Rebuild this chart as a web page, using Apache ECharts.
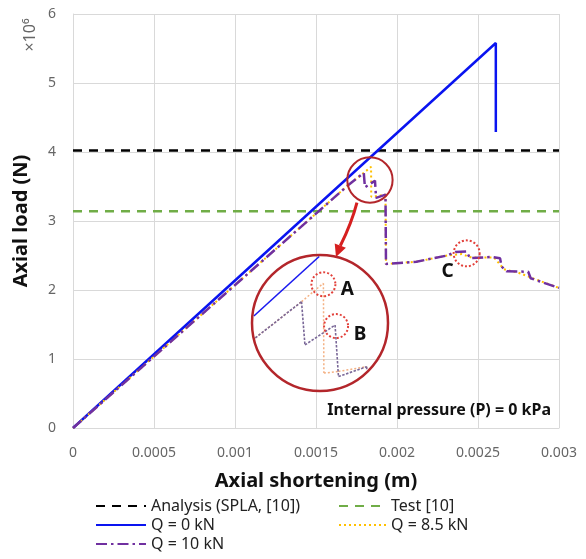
<!DOCTYPE html>
<html>
<head>
<meta charset="utf-8">
<script src="https://cdn.jsdelivr.net/npm/echarts@6/dist/echarts.min.js"></script>
<style>html,body{margin:0;padding:0;background:#fff;}#chart{width:586px;height:559px;}</style>
</head>
<body>
<div id="chart"></div>
<script>
// ---------- data ----------
const xTickLabels = ['0', '0.0005', '0.001', '0.0015', '0.002', '0.0025', '0.003'];
const yTickLabels = ['0', '1', '2', '3', '4', '5', '6'];

const analysisLoad = 4.02e6;          // Analysis (SPLA, [10])
const testLoad = 3.14e6;              // Test [10]

const q0Disp = [0, 0.00261, 0.00261];
const q0Load = [0, 5.58e6, 4.29e6];

const q85Disp = [0, 0.00170, 0.001795, 0.00184, 0.001841, 0.001871, 0.001929, 0.001932,
  0.00212, 0.00231, 0.00240, 0.00246, 0.00260, 0.00266, 0.00275, 0.00285, 0.00300];
const q85Load = [0, 3.522e6, 3.697e6, 3.786e6, 3.352e6, 3.36e6, 3.383e6, 2.377e6,
  2.41e6, 2.50e6, 2.52e6, 2.47e6, 2.47e6, 2.30e6, 2.25e6, 2.16e6, 2.03e6];

const q10Disp = [0, 0.00170, 0.001795, 0.001802, 0.001864, 0.001871, 0.001929, 0.001932,
  0.00212, 0.00231, 0.00236, 0.00243, 0.00245, 0.002585, 0.002636, 0.002646, 0.002677,
  0.00281, 0.002825, 0.00300];
const q10Load = [0, 3.522e6, 3.697e6, 3.488e6, 3.584e6, 3.335e6, 3.383e6, 2.377e6,
  2.41e6, 2.50e6, 2.55e6, 2.56e6, 2.46e6, 2.48e6, 2.46e6, 2.34e6, 2.27e6,
  2.265e6, 2.17e6, 2.03e6];

// magnified window shown in the inset
const insetX = [0.0016931, 0.0019729];
const insetY = [3.2655e6, 3.9225e6];

// annotated points
const pointA = [0.00184, 3.786e6];   // Q = 8.5 kN peak (inset)
const pointB = [0.001864, 3.584e6];  // Q = 10 kN peak (inset)
const pointC = [0.00243, 2.56e6];    // main chart

// ---------- helpers ----------
const pairs = (xs, ys) => xs.map((x, i) => [x, ys[i]]);
const FONT = '"Noto Sans", "Open Sans", sans-serif';

function clipSeg(p, q, c, R) {
  const dx = q[0] - p[0], dy = q[1] - p[1];
  const fx = p[0] - c[0], fy = p[1] - c[1];
  const a = dx * dx + dy * dy;
  if (a === 0) return null;
  const b = 2 * (fx * dx + fy * dy);
  const cc = fx * fx + fy * fy - R * R;
  const disc = b * b - 4 * a * cc;
  if (disc <= 0) return null;
  const s = Math.sqrt(disc);
  let t1 = (-b - s) / (2 * a), t2 = (-b + s) / (2 * a);
  t1 = Math.max(t1, 0); t2 = Math.min(t2, 1);
  if (t1 >= t2) return null;
  return [[p[0] + dx * t1, p[1] + dy * t1], [p[0] + dx * t2, p[1] + dy * t2]];
}

function insetSeries(name, xs, ys, style) {
  return {
    name: name,
    type: 'custom',
    xAxisIndex: 1, yAxisIndex: 1,
    clip: false,
    silent: true,
    z: 5,
    data: pairs(xs, ys),
    encode: { x: 0, y: 1 },
    renderItem: function (params, api) {
      const i = params.dataIndexInside;
      if (i === 0) return null;
      const p = api.coord([api.value(0, i - 1), api.value(1, i - 1)]);
      const q = api.coord([api.value(0, i), api.value(1, i)]);
      const cs = params.coordSys;
      const c = [cs.x + cs.width / 2, cs.y + cs.height / 2];
      const seg = clipSeg(p, q, c, cs.width / 2 - 1.5);
      if (!seg) return null;
      return {
        type: 'line',
        shape: { x1: seg[0][0], y1: seg[0][1], x2: seg[1][0], y2: seg[1][1] },
        style: style
      };
    }
  };
}

// ---------- chart ----------
const chart = echarts.init(document.getElementById('chart'), null, { renderer: 'canvas' });

const legendCommon = {
  orient: 'vertical', top: 497, itemGap: 1, itemHeight: 14, padding: 0,
  itemStyle: { opacity: 0 },
  textStyle: { fontSize: 16, lineHeight: 18, color: '#222', fontFamily: FONT }
};

const option = {
  backgroundColor: '#ffffff',
  animation: false,
  textStyle: { fontFamily: FONT },
  grid: [
    { left: 73, right: 27, top: 14, bottom: 131 },
    { left: 252, top: 255, width: 136, height: 136 }
  ],
  xAxis: [
    {
      type: 'value', gridIndex: 0, min: 0, max: 0.003, interval: 0.0005,
      name: 'Axial shortening (m)', nameLocation: 'middle', nameGap: 43,
      nameTextStyle: { fontSize: 20, fontWeight: 'bold', color: '#111', fontFamily: FONT },
      axisLine: { show: true, lineStyle: { color: '#d9d9d9', width: 1 } },
      axisTick: { show: false },
      splitLine: { show: true, lineStyle: { color: '#d9d9d9', width: 1 } },
      axisLabel: {
        color: '#666', fontSize: 14, margin: 18, fontFamily: FONT,
        formatter: v => xTickLabels[Math.round(v / 0.0005)]
      }
    },
    { type: 'value', gridIndex: 1, min: insetX[0], max: insetX[1], show: false }
  ],
  yAxis: [
    {
      type: 'value', gridIndex: 0, min: 0, max: 6e6, interval: 1e6,
      name: 'Axial load (N)', nameLocation: 'middle', nameGap: 42, nameRotate: 90,
      nameTextStyle: { fontSize: 20, fontWeight: 'bold', color: '#111', fontFamily: FONT },
      axisLine: { show: true, lineStyle: { color: '#d9d9d9', width: 1 } },
      axisTick: { show: false },
      splitLine: { show: true, lineStyle: { color: '#d9d9d9', width: 1 } },
      axisLabel: {
        color: '#666', fontSize: 14, margin: 17, fontFamily: FONT,
        formatter: v => yTickLabels[Math.round(v / 1e6)]
      }
    },
    { type: 'value', gridIndex: 1, min: insetY[0], max: insetY[1], show: false }
  ],
  legend: [
    Object.assign({}, legendCommon, {
      data: ['Analysis (SPLA, [10])', 'Q = 0 kN', 'Q = 10 kN'],
      left: 95, itemWidth: 50
    }),
    Object.assign({}, legendCommon, {
      data: ['Test [10]', 'Q = 8.5 kN'],
      left: 338, itemWidth: 47
    })
  ],
  series: [
    {
      name: 'Analysis (SPLA, [10])', type: 'line', symbol: 'none',
      data: [[0, analysisLoad], [0.003, analysisLoad]],
      lineStyle: { color: '#000000', width: 2.5, type: [9, 7] },
      itemStyle: { color: '#000000' }
    },
    {
      name: 'Test [10]', type: 'line', symbol: 'none',
      data: [[0, testLoad], [0.003, testLoad]],
      lineStyle: { color: '#70AD47', width: 2.5, type: [9, 7] },
      itemStyle: { color: '#70AD47' }
    },
    {
      name: 'Q = 0 kN', type: 'line', symbol: 'none',
      data: pairs(q0Disp, q0Load),
      lineStyle: { color: '#0A14F0', width: 2.5 },
      itemStyle: { color: '#0A14F0' }
    },
    {
      name: 'Q = 8.5 kN', type: 'line', symbol: 'none',
      data: pairs(q85Disp, q85Load),
      lineStyle: { color: '#FFC000', width: 2, type: [2, 3] },
      itemStyle: { color: '#FFC000' }
    },
    {
      name: 'Q = 10 kN', type: 'line', symbol: 'none',
      data: pairs(q10Disp, q10Load),
      lineStyle: { color: '#7030A0', width: 2.5, type: [11, 4, 2.5, 4] },
      itemStyle: { color: '#7030A0' }
    },
    insetSeries('inset Q0', q0Disp, q0Load, { stroke: '#1A1AF0', lineWidth: 1.6 }),
    insetSeries('inset Q8.5', q85Disp, q85Load, { stroke: '#F4B183', lineWidth: 1.5, lineDash: [2, 2] }),
    insetSeries('inset Q10', q10Disp, q10Load, { stroke: '#7A6898', lineWidth: 1.6, lineDash: [2.5, 1.5] })
  ]
};

chart.setOption(option);

// ---------- annotations (positioned from data via the axes) ----------
const mainC = chart.convertToPixel({ gridIndex: 0 }, [(insetX[0] + insetX[1]) / 2, (insetY[0] + insetY[1]) / 2]);
const mainR = (chart.convertToPixel({ gridIndex: 0 }, [insetX[1], 0])[0] -
               chart.convertToPixel({ gridIndex: 0 }, [insetX[0], 0])[0]) / 2;
const bigL = chart.convertToPixel({ gridIndex: 1 }, [insetX[0], insetY[1]]);
const bigR2 = chart.convertToPixel({ gridIndex: 1 }, [insetX[1], insetY[0]]);
const bigC = [(bigL[0] + bigR2[0]) / 2, (bigL[1] + bigR2[1]) / 2];
const bigR = (bigR2[0] - bigL[0]) / 2;

const pA = chart.convertToPixel({ gridIndex: 1 }, pointA);
const pB = chart.convertToPixel({ gridIndex: 1 }, pointB);
const pC = chart.convertToPixel({ gridIndex: 0 }, pointC);

// arrow from small circle to inset circle
const ang = 235 * Math.PI / 180;
const aStart = [mainC[0] + mainR * Math.cos(ang), mainC[1] - mainR * Math.sin(ang) + 4];
const tipX = bigC[0] + 16;
const aTip = [tipX, bigC[1] - Math.sqrt(bigR * bigR - 16 * 16)];
const dx = aTip[0] - aStart[0], dy = aTip[1] - aStart[1];
const len = Math.sqrt(dx * dx + dy * dy);
const ux = dx / len, uy = dy / len;
const base = [aTip[0] - 12 * ux, aTip[1] - 12 * uy];
const px = -uy, py = ux;
const ctrl = [(aStart[0] + base[0]) / 2 + 3, (aStart[1] + base[1]) / 2 - 1];

const RED = '#B3262B';
const DOT = '#E2403A';

chart.setOption({
  graphic: [
    { type: 'text', x: 30, y: 35, rotation: Math.PI / 2, z: 10,
      style: { text: '×10⁶', fill: '#666', font: '16px ' + FONT, textAlign: 'center', textVerticalAlign: 'middle' } },
    { type: 'text', z: 10, x: 551, y: 410,
      style: { text: 'Internal pressure (P) = 0 kPa', fill: '#111', font: 'bold 16px ' + FONT,
               textAlign: 'right', textVerticalAlign: 'middle' } },
    // small circle on main chart
    { type: 'circle', z: 20, shape: { cx: mainC[0], cy: mainC[1], r: mainR },
      style: { fill: 'none', stroke: RED, lineWidth: 2 } },
    // inset circle
    { type: 'circle', z: 20, shape: { cx: bigC[0], cy: bigC[1], r: bigR },
      style: { fill: 'none', stroke: RED, lineWidth: 2.5 } },
    // arrow
    { type: 'bezierCurve', z: 21,
      shape: { x1: aStart[0], y1: aStart[1], x2: base[0], y2: base[1], cpx1: ctrl[0], cpy1: ctrl[1] },
      style: { fill: 'none', stroke: '#D61F1F', lineWidth: 3 } },
    { type: 'polygon', z: 21,
      shape: { points: [aTip, [base[0] + 6 * px, base[1] + 6 * py], [base[0] - 6 * px, base[1] - 6 * py]] },
      style: { fill: '#D61F1F' } },
    // dotted circles
    { type: 'circle', z: 22, shape: { cx: pA[0], cy: pA[1] + 1, r: 12 },
      style: { fill: 'none', stroke: DOT, lineWidth: 2, lineDash: [2, 2] } },
    { type: 'circle', z: 22, shape: { cx: pB[0] + 1, cy: pB[1] + 1, r: 12 },
      style: { fill: 'none', stroke: DOT, lineWidth: 2, lineDash: [2, 2] } },
    { type: 'circle', z: 22, shape: { cx: pC[0], cy: pC[1] + 2, r: 13 },
      style: { fill: 'none', stroke: DOT, lineWidth: 2, lineDash: [2, 2] } },
    // labels
    { type: 'text', z: 23, x: pA[0] + 24, y: pA[1] + 6,
      style: { text: 'A', fill: '#111', font: 'bold 19px ' + FONT, textAlign: 'center', textVerticalAlign: 'middle' } },
    { type: 'text', z: 23, x: pB[0] + 25, y: pB[1] + 10,
      style: { text: 'B', fill: '#111', font: 'bold 19px ' + FONT, textAlign: 'center', textVerticalAlign: 'middle' } },
    { type: 'text', z: 23, x: pC[0] - 19, y: pC[1] + 20,
      style: { text: 'C', fill: '#111', font: 'bold 19px ' + FONT, textAlign: 'center', textVerticalAlign: 'middle' } }
  ]
});
</script>
</body>
</html>
